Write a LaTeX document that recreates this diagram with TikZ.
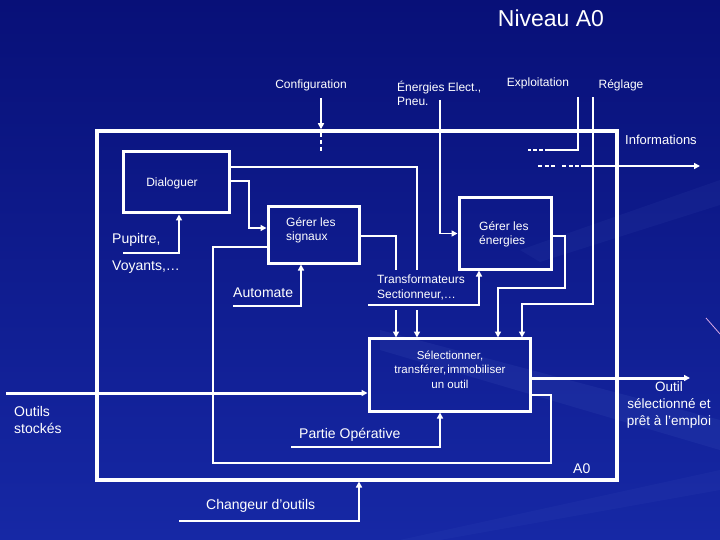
\documentclass[tikz,border=0pt]{standalone}
\usepackage{fontspec}
\setmainfont{Liberation Sans}
\usetikzlibrary{arrows.meta}
\definecolor{bgdark}{RGB}{8,16,120}
\definecolor{bglight}{RGB}{22,40,165}
\definecolor{streak}{RGB}{120,150,230}
\definecolor{pinkline}{RGB}{220,170,230}
\tikzset{
  box/.style={draw=white, line width=3pt, minimum width=#1},
  bigbox/.style={draw=white, line width=3.5pt},
  conn/.style={draw=white, line width=1.5pt},
  medconn/.style={draw=white, line width=2pt},
  thickconn/.style={draw=white, line width=3pt},
  tip/.style={-{Triangle[length=6pt,width=6pt]}},
  lbl/.style={text=white, inner sep=0pt, font=\fontsize{12}{14}\selectfont},
  biglbl/.style={text=white, inner sep=0pt, font=\fontsize{14}{17}\selectfont},
}
\begin{document}
\begin{tikzpicture}[x=1pt,y=-1pt]
\useasboundingbox (0,0) rectangle (720,540);
% background
\shade[left color=bgdark, right color=bglight, shading angle=0] (0,0) rectangle (720,540);
\fill[streak, opacity=0.08] (380,330) -- (720,420) -- (720,450) -- (380,350) -- cycle;
\fill[streak, opacity=0.06] (520,250) -- (720,180) -- (720,205) -- (540,262) -- cycle;
\fill[streak, opacity=0.05] (400,540) -- (720,470) -- (720,490) -- (440,540) -- cycle;
\draw[pinkline, line width=0.8pt] (706,318) -- (720,334);

% boxes
\node[bigbox, minimum width=520pt, minimum height=349pt] (A0) at (357,305.5) {};
\node[box=106pt, minimum height=61pt] (dlg) at (176,182.5) {};
\node[box=91pt, minimum height=56pt] (sig) at (313.5,235) {};
\node[box=92pt, minimum height=71pt] (ene) at (505,233.5) {};
\node[box=161pt, minimum height=73pt] (sel) at (449.5,374.5) {};

% texts
\node[text=white, font=\fontsize{23}{26}\selectfont, inner sep=0pt] (titre) at (551,18) {Niveau A0};
\node[lbl] (tcfg) at (311,85) {Configuration};
\node[lbl, anchor=west, align=left] (tene) at (397,93) {Énergies Elect.,\\Pneu.};
\node[lbl] (texp) at (538,83) {Exploitation};
\node[lbl] (treg) at (621,85) {Réglage};
\node[lbl, font=\fontsize{13}{15}\selectfont, anchor=west] (tinf) at (625,140) {Informations};
\node[lbl] (tdlg) at (172,183) {Dialoguer};
\node[lbl, anchor=west, align=left] (tsig) at (286,230) {Gérer les\\signaux};
\node[lbl, anchor=west, align=left] (tene2) at (479,234) {Gérer les\\énergies};
\node[biglbl, anchor=west] (tpup) at (112,240) {Pupitre,};
\node[biglbl, anchor=west] (tvoy) at (112,267) {Voyants,\dots};
\node[biglbl, anchor=west] (taut) at (233,293) {Automate};
\node[lbl, anchor=west, align=left, font=\fontsize{12}{15}\selectfont] (ttra) at (377,287.5) {Transformateurs\\Sectionneur,\dots};
\node[lbl, align=center, font=\fontsize{11.5}{14.5}\selectfont] (tsel) at (450,369.5) {Sélectionner,\\transférer,\hspace{0.1em}immobiliser\\un outil};
\node[biglbl, anchor=west, align=left] (tout) at (14,419.5) {Outils\\stockés};
\node[biglbl, anchor=west] (tpo) at (299,435) {Partie Opérative};
\node[biglbl, anchor=west] (ta0) at (573,469) {A0};
\node[biglbl, align=center, font=\fontsize{13.5}{17}\selectfont] (tosel) at (669,405) {Outil\\sélectionné et\\prêt à l'emploi};
\node[biglbl, anchor=west] (tchg) at (206,506) {Changeur d'outils};

% free ends
\coordinate (cfg) at (321,98);
\coordinate (enr) at (440,100);
\coordinate (exp) at (578,97);
\coordinate (reg) at (593,97);
\coordinate (inf) at (583,166);
\coordinate (pup) at (123,253);
\coordinate (aut) at (233,306);
\coordinate (tra) at (368,305);
\coordinate (ost) at (6,393);
\coordinate (osel) at (690,378);
\coordinate (par) at (291,447);
\coordinate (chg) at (179,521);

% connectors
\draw[medconn, tip] (cfg) -- (cfg |- A0.north);
\draw[white, line width=1.5pt, dash pattern=on 4pt off 3pt] (321,133) -- (321,151);
\draw[conn, tip] (enr) |- (ene.west);
\draw[conn] (exp) |- (549,150);
\draw[white, line width=1.2pt, dash pattern=on 4pt off 2pt] (549,150) -- (528,150);
\draw[conn, tip] (reg) |- (522,304) -- (522,337.5);
\draw[white, line width=1.2pt, dash pattern=on 4pt off 2.5pt on 4pt off 2.5pt on 4pt off 7pt on 4pt off 2.5pt on 4pt off 2.5pt on 4pt off 2pt] (538,166) -- (inf);
\draw[medconn, line width=2.5pt, tip] (inf) -- (700,166);
\draw[conn, tip] (dlg.east |- 0,181) -- (249,181) -- (249,228) -- (sig.west |- 0,228);
\draw[conn] (dlg.east |- 0,167) -- (417,167) -- (417,270);
\draw[medconn, tip] (417,310) -- (417,337.5);
\draw[conn] (sig.east |- 0,236) -- (396,236) -- (396,270);
\draw[medconn, tip] (396,310) -- (396,337.5);
\draw[conn] (sel.east |- 0,395) -- (551,395) -- (551,463) -- (213,463) -- (213,247) -- (sig.west |- 0,247);
\draw[conn, tip] (ene.east |- 0,236) -- (565,236) -- (565,288) -- (498,288) -- (498,337.5);
\draw[conn, tip] (tra) -| (479,270.5);
\draw[medconn, tip] (pup) -| (179,214.5);
\draw[medconn, tip] (aut) -| (301,264.5);
\draw[thickconn, tip] (ost) -- (sel.west |- 0,393);
\draw[thickconn, tip] (sel.east |- 0,378) -- (osel);
\draw[medconn, tip] (par) -| (440,412.5);
\draw[medconn, tip] (chg) -| (359,481.5);
\end{tikzpicture}
\end{document}
